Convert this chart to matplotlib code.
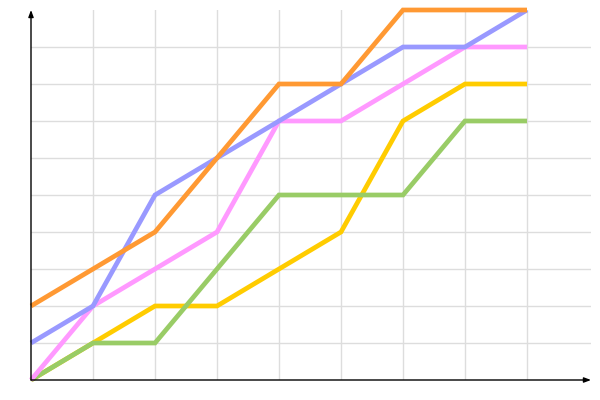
import matplotlib
matplotlib.use("Agg")
import matplotlib.pyplot as plt

x = [0, 1, 2, 3, 4, 5, 6, 7, 8]
yellow = [0, 1, 2, 2, 3, 4, 7, 8, 8]
green = [0, 1, 1, 3, 5, 5, 5, 7, 7]
pink = [0, 2, 3, 4, 7, 7, 8, 9, 9]
blue = [1, 2, 5, 6, 7, 8, 9, 9, 10]
orange = [2, 3, 4, 6, 8, 8, 10, 10, 10]

series = [
    (yellow, "#ffcc00"),
    (green, "#99cc66"),
    (pink, "#ff99ff"),
    (blue, "#9999ff"),
    (orange, "#ff9933"),
]

fig = plt.figure(figsize=(6, 4), dpi=100)
ax = fig.add_axes([31/600, 20/400, 560/600, 370/400])
ax.set_xlim(0, 560/62)
ax.set_ylim(0, 10)

# grid
for gx in range(1, 9):
    ax.plot([gx, gx], [0, 10], color="#dddddd", lw=1, zorder=1)
for gy in range(1, 10):
    ax.plot([0, 560/62], [gy, gy], color="#dddddd", lw=1, zorder=1)

for vals, col in series:
    ax.plot(x, vals, color=col, lw=3.4, solid_capstyle="butt", solid_joinstyle="miter", zorder=3, clip_on=False)

for s in ax.spines.values():
    s.set_visible(False)
ax.set_xticks([])
ax.set_yticks([])

# axes with arrows
ax.annotate("", xy=(560/62, 0), xytext=(0, 0),
            arrowprops=dict(arrowstyle="-|>,head_length=0.4,head_width=0.15", color="black", lw=1, shrinkA=0, shrinkB=0),
            annotation_clip=False, zorder=5)
ax.annotate("", xy=(0, 10), xytext=(0, 0),
            arrowprops=dict(arrowstyle="-|>,head_length=0.4,head_width=0.15", color="black", lw=1, shrinkA=0, shrinkB=0),
            annotation_clip=False, zorder=5)

fig.savefig("out.png", dpi=100)
